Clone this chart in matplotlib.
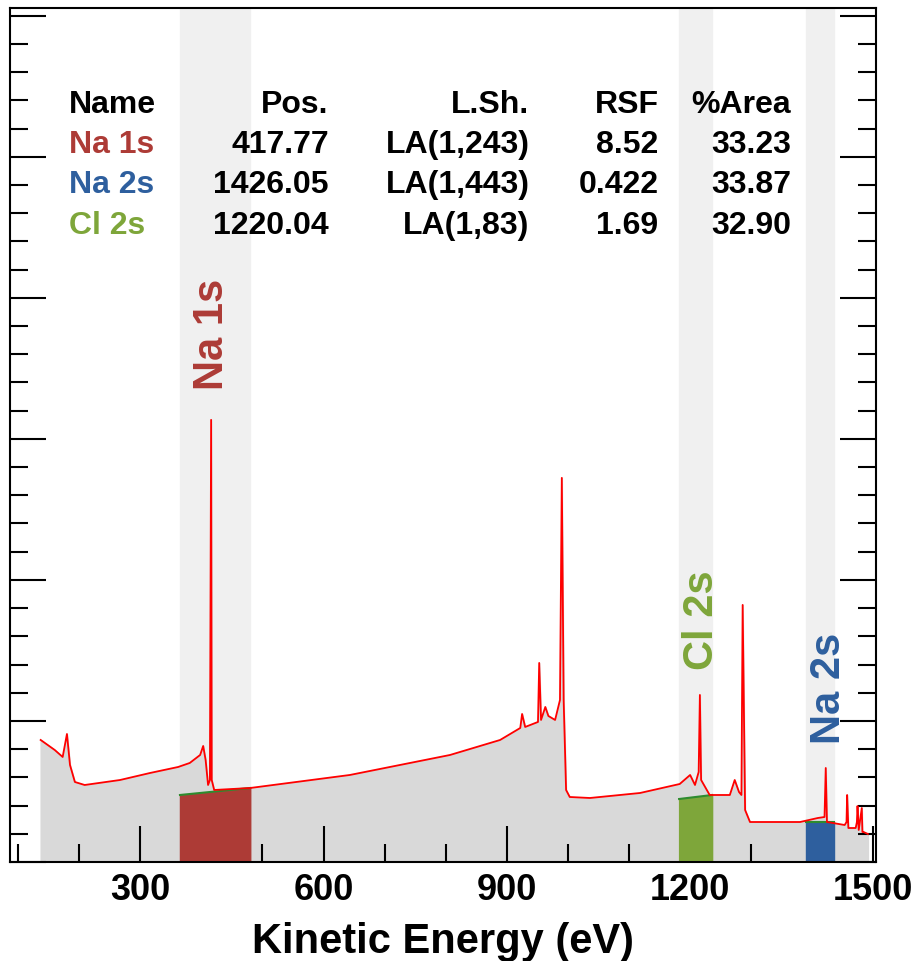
import numpy as np
import matplotlib.pyplot as plt
from matplotlib.ticker import MultipleLocator

plt.rcParams['font.family'] = ['Liberation Sans', 'DejaVu Sans']

# survey spectrum, kinetic energy (eV) vs intensity (arb.)
ke = [137, 160, 173, 180, 185, 193, 209, 267, 316, 362, 381, 398, 403, 407, 411, 414,
      416, 417, 421, 480, 643, 807, 889, 922, 925, 930, 951, 953, 956, 963, 968, 979,
      987, 990, 993, 997, 1003, 1036, 1118, 1183, 1200, 1208, 1214, 1216, 1218, 1232,
      1265, 1273, 1280, 1284, 1286, 1290, 1298, 1380, 1409, 1420, 1422, 1424, 1453,
      1456, 1457, 1459, 1471, 1473, 1474, 1476, 1481, 1482, 1484, 1491]
cps = [122, 112, 105, 128, 97, 80, 77, 82, 89, 95, 99, 107, 116, 102, 77, 82,
       442, 82, 72, 74, 87, 107, 122, 134, 148, 135, 140, 199, 142, 155, 146, 142,
       162, 384, 162, 72, 65, 64, 69, 78, 87, 77, 90, 167, 82, 67,
       67, 82, 70, 67, 257, 52, 40, 40, 44, 45, 94, 40, 37,
       40, 67, 34, 34, 40, 56, 32, 54, 30, 30, 28]

peaks = ["Na 1s", "Na 2s", "Cl 2s"]
pos = ["417.77", "1426.05", "1220.04"]
lsh = ["LA(1,243)", "LA(1,443)", "LA(1,83)"]
rsf = ["8.52", "0.422", "1.69"]
area = ["33.23", "33.87", "32.90"]
colors = ["#ad3b36", "#2e5f9e", "#7ea63a"]
regions = [(365, 480), (1389, 1435), (1182, 1236)]
bg_left = [67, 40, 63]
bg_right = [74, 40, 67]
label_x = [418, 1428, 1220]
label_y = [527, 174, 242]

fig = plt.figure(figsize=(9.2, 9.61), dpi=100)
ax = fig.add_axes([0.011, 0.103, 0.941, 0.889])
ax.set_xlim(87, 1504)
ax.set_ylim(0, 854)

for (a, b) in regions:
    ax.axvspan(a, b, color="#f0f0f0", zorder=0)
ax.fill_between(ke, cps, 0, color="#d9d9d9", zorder=1)
for i in range(3):
    a, b = regions[i]
    ax.fill_between([a, b], [bg_left[i], bg_right[i]], 0, color=colors[i], zorder=2)
    ax.plot([a, b], [bg_left[i], bg_right[i]], color="#2e8b2e", lw=1.5, zorder=3)
    ax.text(label_x[i], label_y[i], peaks[i], rotation=90, color=colors[i],
            fontsize=30, ha="center", va="center", fontweight="bold")
ax.plot(ke, cps, color="red", lw=1.3, zorder=4)

ax.xaxis.set_major_locator(MultipleLocator(300))
ax.xaxis.set_minor_locator(MultipleLocator(100))
ax.yaxis.set_major_locator(MultipleLocator(141))
ax.yaxis.set_minor_locator(MultipleLocator(28.2))
ax.tick_params(which="both", direction="in", right=True, width=1.5)
ax.tick_params(which="major", length=26)
ax.tick_params(which="minor", length=13)
ax.tick_params(axis="x", labelsize=26, pad=8)
ax.set_yticklabels([])
for t in ax.get_xticklabels():
    t.set_fontweight("bold")
for s in ax.spines.values():
    s.set_linewidth(1.5)
ax.set_xlabel("Kinetic Energy (eV)", fontsize=30, fontweight="bold", labelpad=10)

# quantification table
tr = ax.transAxes
rows_y = [0.886, 0.839, 0.792, 0.744]
head = ["Name", "Pos.", "L.Sh.", "RSF", "%Area"]
col_x = [0.068, 0.368, 0.60, 0.749, 0.902]
col_ha = ["left", "right", "right", "right", "right"]
for j in range(5):
    ax.text(col_x[j], rows_y[0], head[j], transform=tr, ha=col_ha[j], va="center",
            fontsize=23, fontweight="bold")
for i in range(3):
    vals = [peaks[i], pos[i], lsh[i], rsf[i], area[i]]
    for j in range(5):
        ax.text(col_x[j], rows_y[i + 1], vals[j], transform=tr, ha=col_ha[j], va="center",
                fontsize=23, fontweight="bold", color=colors[i] if j == 0 else "black")

fig.savefig("out.png")
